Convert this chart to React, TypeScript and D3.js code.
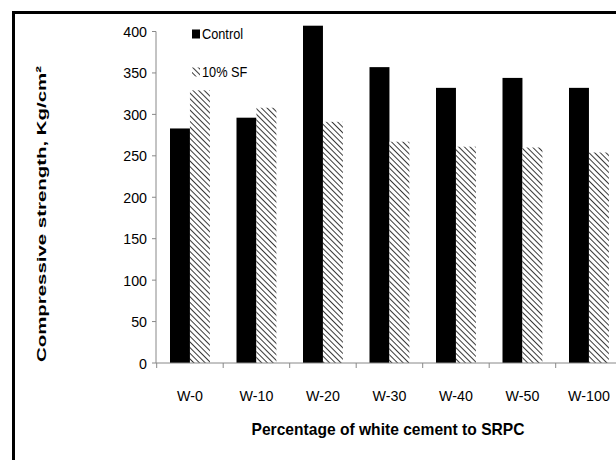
import React from "react";
import * as d3 from "d3";

const categories = ["W-0", "W-10", "W-20", "W-30", "W-40", "W-50", "W-100"];
const controlValues = [283, 296, 407, 357, 332, 344, 332];
const sfValues = [329, 308, 291, 267, 261, 260, 254];
const seriesNames = ["Control", "10% SF"];
const yTicks = [0, 50, 100, 150, 200, 250, 300, 350, 400];

const W = 616;
const H = 460;
const margin = { left: 156, top: 31.5, bottom: 97 };
const bandW = 66.5;
const font = "'Liberation Sans', Arial, sans-serif";

// narrow-looking label: Arial squeezed horizontally
function Label({ x, y, anchor = "start", size = 15.5, sx = 0.92, children }: any) {
  return (
    <text
      transform={`translate(${x},${y}) scale(${sx},1)`}
      textAnchor={anchor}
      fontFamily={font}
      fontSize={size}
      fill="#000"
    >
      {children}
    </text>
  );
}

export default function App() {
  const plotBottom = H - margin.bottom;
  const x = d3
    .scaleBand()
    .domain(categories)
    .range([margin.left + 0.7, margin.left + 0.7 + bandW * categories.length]);
  const y = d3.scaleLinear().domain([0, 400]).range([plotBottom, margin.top]);
  const barW = bandW * 0.3;
  const groupOff = (bandW - barW * 2) / 2;

  const series = [
    { name: seriesNames[0], values: controlValues, fill: "#000" },
    { name: seriesNames[1], values: sfValues, fill: "url(#hatch)" },
  ];

  return (
    <svg
      width={W}
      height={H}
      style={{ position: "absolute", left: 0, top: 0, background: "#fff" }}
    >
      <defs>
        <pattern
          id="hatch"
          width="4"
          height="4"
          patternUnits="userSpaceOnUse"
          patternTransform="rotate(-45)"
        >
          <rect width="4" height="4" fill="#fff" />
          <line x1="0" y1="0" x2="0" y2="4" stroke="#222" strokeWidth="1.8" />
        </pattern>
      </defs>
      <rect x={13.5} y={12.5} width={700} height={500} fill="none" stroke="#000" strokeWidth={3} />

      {/* bars */}
      {series.map((s, si) =>
        categories.map((c, i) => (
          <rect
            key={s.name + c}
            x={x(c)! + groupOff + si * barW}
            y={y(s.values[i])}
            width={barW}
            height={y(0) - y(s.values[i])}
            fill={s.fill}
          />
        ))
      )}

      {/* y axis */}
      <line x1={margin.left} x2={margin.left} y1={margin.top} y2={plotBottom} stroke="#888" />
      {yTicks.map((t) => (
        <g key={t}>
          <line x1={margin.left - 4} x2={margin.left} y1={y(t)} y2={y(t)} stroke="#888" />
          <Label x={margin.left - 9} y={y(t) + 5.5} anchor="end">
            {t}
          </Label>
        </g>
      ))}

      {/* x axis */}
      <line x1={margin.left} x2={W} y1={plotBottom} y2={plotBottom} stroke="#888" />
      {categories.map((c) => (
        <g key={c}>
          <line x1={x(c)!} x2={x(c)!} y1={plotBottom} y2={plotBottom + 5} stroke="#888" />
          <Label x={x(c)! + bandW / 2} y={plotBottom + 38} anchor="middle">
            {c}
          </Label>
        </g>
      ))}

      {/* axis titles */}
      <text
        x={388}
        y={435}
        textAnchor="middle"
        fontFamily={font}
        fontWeight="bold"
        fontSize={17}
        textLength={273}
        lengthAdjust="spacingAndGlyphs"
      >
        Percentage of white cement to SRPC
      </text>
      <text
        transform="translate(45.5,214) rotate(-90) scale(1,0.68)"
        textAnchor="middle"
        fontFamily={font}
        fontWeight="bold"
        fontSize={20}
        textLength={296}
        lengthAdjust="spacingAndGlyphs"
      >
        Compressive strength, Kg/cm²
      </text>

      {/* legend */}
      {series.map((s, i) => (
        <g key={s.name} transform={`translate(192,${29.5 + i * 38})`}>
          <rect width={8} height={9} fill={s.fill} />
          <Label x={10} y={9.5} size={15} sx={0.85}>
            {s.name}
          </Label>
        </g>
      ))}
    </svg>
  );
}
